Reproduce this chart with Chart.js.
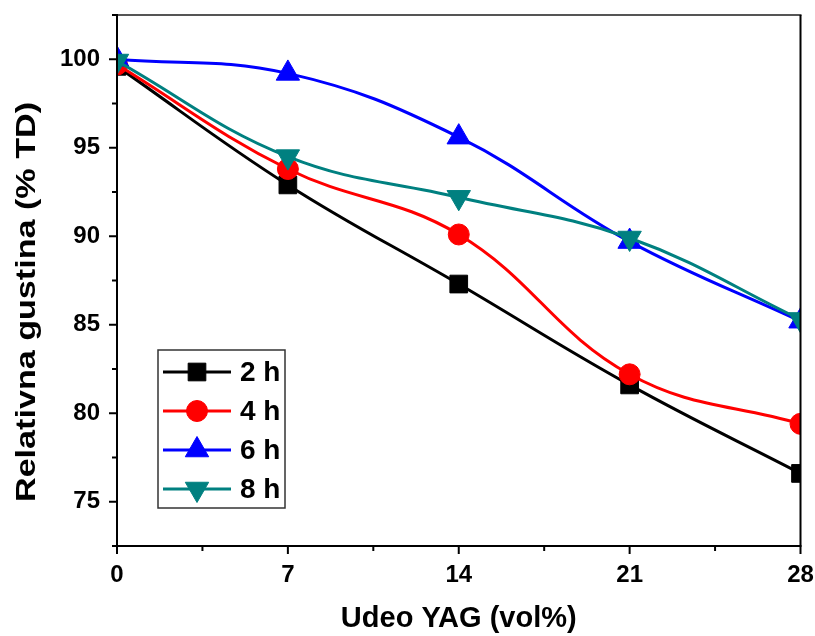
<!DOCTYPE html>
<html>
<head>
<meta charset="utf-8">
<script src="https://cdn.jsdelivr.net/npm/chart.js@4/dist/chart.umd.min.js"></script>
<style>
  html, body { margin: 0; padding: 0; background: #fff; }
  #wrap { width: 815px; height: 636px; position: relative; }
</style>
</head>
<body>
<div id="wrap"><canvas id="c" width="815" height="636"></canvas></div>
<script>
// ---- data ----
const categories = [0, 7, 14, 21, 28];
const seriesLabels = ['2 h', '4 h', '6 h', '8 h'];
const series2h = [99.6, 92.9, 87.3, 81.6, 76.6];
const series4h = [99.7, 93.8, 90.1, 82.2, 79.4];
const series6h = [100.0, 99.2, 95.6, 89.7, 85.2];
const series8h = [99.9, 94.5, 92.2, 89.9, 85.3];
const xTickValues = [0, 7, 14, 21, 28];
const xMinorTicks = [3.5, 10.5, 17.5, 24.5];
const yTickValues = [75, 80, 85, 90, 95, 100];
const yMinorTicks = [72.5, 77.5, 82.5, 87.5, 92.5, 97.5, 102.5];
const xTitle = 'Udeo YAG (vol%)';
const yTitle = 'Relativna gustina (% TD)';

const FONT = "'Liberation Sans', Arial, sans-serif";

const styles = [
  { color: '#000000', pointStyle: 'rect', radius: 12.5, rotation: 0, order: 4 },
  { color: '#FF0000', pointStyle: 'circle', radius: 10.5, rotation: 0, order: 3 },
  { color: '#0000FF', pointStyle: 'triangle', radius: 13.5, rotation: 0, order: 2 },
  { color: '#008080', pointStyle: 'triangle', radius: 13.5, rotation: 180, order: 1 }
];
const allSeries = [series2h, series4h, series6h, series8h];

const datasets = allSeries.map((vals, i) => ({
  label: seriesLabels[i],
  data: categories.map((c, j) => ({ x: c, y: vals[j] })),
  borderColor: styles[i].color,
  backgroundColor: styles[i].color,
  pointBackgroundColor: styles[i].color,
  pointBorderColor: styles[i].color,
  pointBorderWidth: 1,
  pointStyle: styles[i].pointStyle,
  pointRadius: styles[i].radius,
  pointRotation: styles[i].rotation,
  borderWidth: 3,
  tension: 0.4,
  order: styles[i].order
}));

function drawMarker(ctx, st, x, y) {
  if (Chart.helpers && Chart.helpers.drawPoint) {
    ctx.fillStyle = st.color; ctx.strokeStyle = st.color; ctx.lineWidth = 1;
    Chart.helpers.drawPoint(ctx, { pointStyle: st.pointStyle, rotation: st.rotation, radius: st.radius, borderWidth: 1 }, x, y);
    return;
  }
  ctx.save();
  ctx.fillStyle = st.color;
  ctx.beginPath();
  const r = st.radius;
  if (st.pointStyle === 'rect') {
    const s = Math.SQRT1_2 * r; ctx.rect(x - s, y - s, 2 * s, 2 * s);
  } else if (st.pointStyle === 'circle') {
    ctx.arc(x, y, r, 0, Math.PI * 2);
  } else {
    let rad = st.rotation * Math.PI / 180;
    for (let k = 0; k < 3; k++) {
      const px = x + Math.sin(rad) * r, py = y - Math.cos(rad) * r;
      k === 0 ? ctx.moveTo(px, py) : ctx.lineTo(px, py);
      rad += 2 * Math.PI / 3;
    }
    ctx.closePath();
  }
  ctx.fill();
  ctx.restore();
}

const framePlugin = {
  id: 'frame',
  afterDatasetsDraw(chart) {
    const { ctx, chartArea: a, scales } = chart;
    const xs = scales.x, ys = scales.y;
    ctx.save();
    ctx.lineCap = 'butt';
    // top border (gray)
    ctx.strokeStyle = '#555555'; ctx.lineWidth = 2;
    ctx.beginPath(); ctx.moveTo(a.left, a.top); ctx.lineTo(a.right + 1, a.top); ctx.stroke();
    // right border
    ctx.strokeStyle = '#000000'; ctx.lineWidth = 2;
    ctx.beginPath(); ctx.moveTo(a.right, a.top); ctx.lineTo(a.right, a.bottom); ctx.stroke();
    // left & bottom axes
    ctx.beginPath(); ctx.moveTo(a.left, a.top - 1); ctx.lineTo(a.left, a.bottom + 1); ctx.stroke();
    ctx.beginPath(); ctx.moveTo(a.left - 1, a.bottom); ctx.lineTo(a.right + 1, a.bottom); ctx.stroke();
    // ticks
    ctx.lineWidth = 2;
    xTickValues.forEach(v => { const p = xs.getPixelForValue(v); ctx.beginPath(); ctx.moveTo(p, a.bottom); ctx.lineTo(p, a.bottom + 8); ctx.stroke(); });
    xMinorTicks.forEach(v => { const p = xs.getPixelForValue(v); ctx.beginPath(); ctx.moveTo(p, a.bottom); ctx.lineTo(p, a.bottom + 5); ctx.stroke(); });
    yTickValues.forEach(v => { const p = ys.getPixelForValue(v); ctx.beginPath(); ctx.moveTo(a.left - 8, p); ctx.lineTo(a.left, p); ctx.stroke(); });
    yMinorTicks.forEach(v => { const p = ys.getPixelForValue(v); ctx.beginPath(); ctx.moveTo(a.left - 5, p); ctx.lineTo(a.left, p); ctx.stroke(); });
    ctx.restore();
  },
  afterDraw(chart) {
    const ctx = chart.ctx;
    ctx.save();
    // y-axis title (rotated, stretched along its length like the reference)
    ctx.save();
    ctx.translate(27, 302);
    ctx.rotate(-Math.PI / 2);
    ctx.font = 'bold 28px ' + FONT;
    const tw = ctx.measureText(yTitle).width;
    ctx.scale(400 / tw, 1);
    ctx.fillStyle = '#000';
    ctx.textAlign = 'center'; ctx.textBaseline = 'middle';
    ctx.fillText(yTitle, 0, 0);
    ctx.restore();
    // legend box
    const bx = 158, by = 350, bw = 127, bh = 158;
    ctx.fillStyle = '#ffffff';
    ctx.fillRect(bx, by, bw, bh);
    ctx.strokeStyle = '#333333'; ctx.lineWidth = 1.5;
    ctx.strokeRect(bx, by, bw, bh);
    const rowY0 = 372, step = 39;
    seriesLabels.forEach((lab, i) => {
      const y = rowY0 + i * step;
      const st = styles[i];
      ctx.strokeStyle = st.color; ctx.lineWidth = 3;
      ctx.beginPath(); ctx.moveTo(163, y); ctx.lineTo(231, y); ctx.stroke();
      drawMarker(ctx, st, 197, y);
      ctx.fillStyle = '#000';
      ctx.font = 'bold 28px ' + FONT;
      ctx.textAlign = 'left'; ctx.textBaseline = 'middle';
      ctx.fillText(lab, 240, y + 1);
    });
    ctx.restore();
  }
};

new Chart(document.getElementById('c'), {
  type: 'line',
  data: { datasets },
  plugins: [framePlugin],
  options: {
    responsive: false,
    animation: false,
    devicePixelRatio: 1,
    layout: { padding: { top: 15, right: 13, left: 0, bottom: 0 } },
    plugins: { legend: { display: false }, tooltip: { enabled: false } },
    scales: {
      x: {
        type: 'linear', min: 0, max: 28,
        afterBuildTicks: s => { s.ticks = xTickValues.map(v => ({ value: v })); },
        afterFit: s => { s.height = 90; s.paddingLeft = 0; s.paddingRight = 0; },
        grid: { drawOnChartArea: false, color: 'rgba(0,0,0,0)', tickColor: 'rgba(0,0,0,0)', tickLength: 8 },
        border: { display: false },
        ticks: { color: '#000', padding: 7, font: { family: FONT, size: 24, weight: 'bold' }, maxRotation: 0, autoSkip: false },
        title: { display: true, text: xTitle, color: '#000', font: { family: FONT, size: 29, weight: 'bold' }, padding: { top: 0, bottom: 0 } }
      },
      y: {
        type: 'linear', min: 72.5, max: 102.5,
        afterBuildTicks: s => { s.ticks = yTickValues.map(v => ({ value: v })); },
        afterFit: s => { s.width = 117; s.paddingTop = 0; s.paddingBottom = 0; },
        grid: { drawOnChartArea: false, color: 'rgba(0,0,0,0)', tickColor: 'rgba(0,0,0,0)', tickLength: 8 },
        border: { display: false },
        ticks: { color: '#000', padding: 9, font: { family: FONT, size: 24, weight: 'bold' }, autoSkip: false },
        title: { display: false, text: yTitle }
      }
    }
  }
});
</script>
</body>
</html>
